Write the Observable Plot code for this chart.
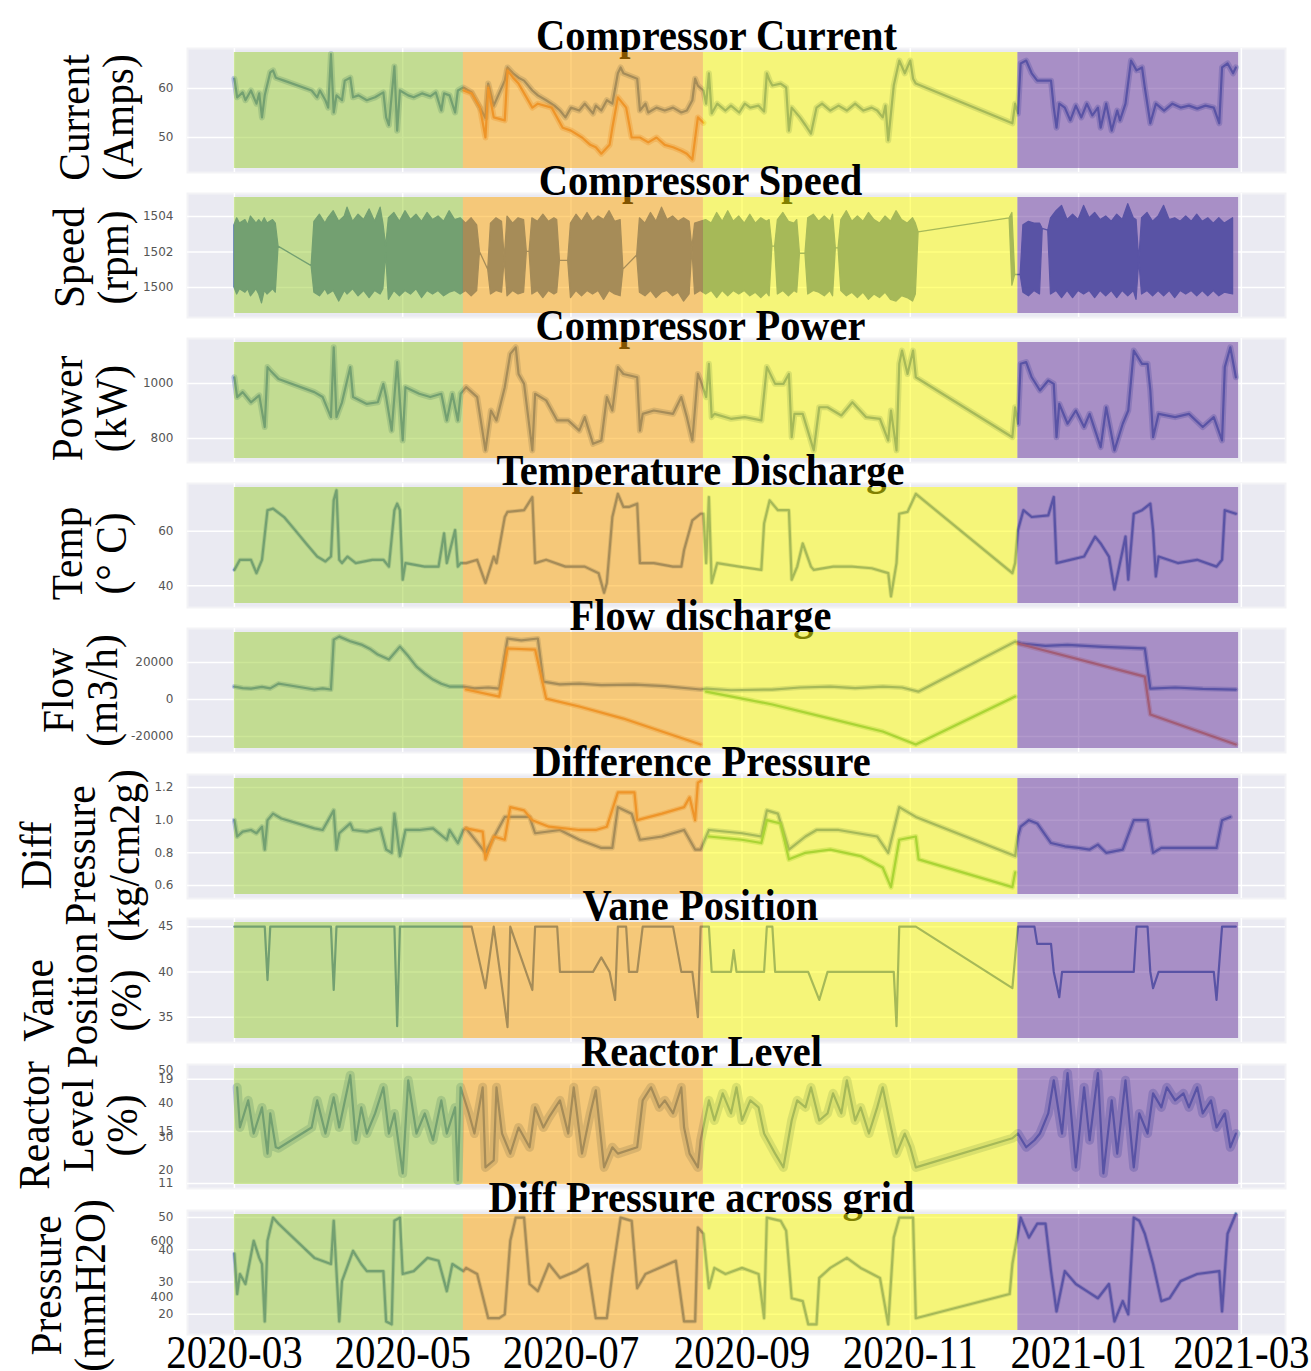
<!DOCTYPE html>
<html><head><meta charset="utf-8">
<script src="https://cdn.jsdelivr.net/npm/d3@7"></script>
<script src="https://cdn.jsdelivr.net/npm/@observablehq/plot@0.6"></script>
<style>
body{margin:0;background:#fff;}
#chart{position:relative;width:1311px;height:1371px;overflow:hidden;background:#fff;}
#chart svg{position:absolute;left:0;}
</style></head><body><div id="chart"></div>
<script>
// ---------- shared ----------
const xTickDates = ["2020-03-01","2020-05-01","2020-07-01","2020-09-01","2020-11-01","2021-01-01","2021-03-01"];
const bandStart = ["2020-03-01","2020-05-23","2020-08-18","2020-12-10"];
const bandEnd   = ["2020-05-23","2020-08-18","2020-12-10","2021-02-28"];
const bandColor = ["yellowgreen","orange","yellow","rebeccapurple"];

// ---------- Compressor Current (Amps) ----------
const currentMain = [["2020-03-01",62.0],["2020-03-02",58.2],["2020-03-04",59.2],["2020-03-05",57.6],["2020-03-07",59.6],["2020-03-09",56.9],["2020-03-10",59.0],["2020-03-11",54.1],["2020-03-12",58.6],["2020-03-14",63.3],["2020-03-15",63.7],["2020-03-16",62.2],["2020-03-19",61.6],["2020-03-29",59.6],["2020-03-31",58.2],["2020-04-01",59.6],["2020-04-03",57.6],["2020-04-04",56.1],["2020-04-05",67.0],["2020-04-06",55.1],["2020-04-07",58.6],["2020-04-09",57.6],["2020-04-10",61.6],["2020-04-12",62.2],["2020-04-13",58.2],["2020-04-15",58.6],["2020-04-18",57.6],["2020-04-21",58.2],["2020-04-24",59.2],["2020-04-25",54.1],["2020-04-26",52.5],["2020-04-28",64.5],["2020-04-29",51.4],["2020-04-30",59.6],["2020-05-03",58.6],["2020-05-05",58.2],["2020-05-08",59.0],["2020-05-11",58.4],["2020-05-13",59.2],["2020-05-15",55.5],["2020-05-16",59.0],["2020-05-18",58.6],["2020-05-20",55.1],["2020-05-21",59.6],
["2020-05-23",60.2],["2020-05-26",59.2],["2020-05-29",56.1],["2020-05-31",54.0],["2020-06-01",61.0],["2020-06-03",56.5],["2020-06-07",61.6],["2020-06-08",64.3],["2020-06-10",63.1],["2020-06-12",62.2],["2020-06-14",61.6],["2020-06-17",59.6],["2020-06-19",58.6],["2020-06-22",57.6],["2020-06-25",56.5],["2020-06-27",55.5],["2020-06-29",54.1],["2020-07-01",56.1],["2020-07-04",55.5],["2020-07-06",56.9],["2020-07-09",54.9],["2020-07-10",56.5],["2020-07-12",55.5],["2020-07-14",57.6],["2020-07-16",56.9],["2020-07-18",63.1],["2020-07-19",64.3],["2020-07-20",63.1],["2020-07-25",62.0],["2020-07-26",55.5],["2020-07-28",56.9],["2020-07-29",55.1],["2020-08-01",56.1],["2020-08-04",55.5],["2020-08-07",56.1],["2020-08-10",55.1],["2020-08-12",55.5],["2020-08-14",57.6],["2020-08-15",62.0],["2020-08-16",60.6],["2020-08-18",59.6],
["2020-08-19",56.9],["2020-08-20",63.1],["2020-08-21",54.9],["2020-08-23",56.9],["2020-08-26",55.5],["2020-08-28",56.5],["2020-08-31",55.1],["2020-09-02",56.9],["2020-09-04",56.1],["2020-09-07",56.5],["2020-09-09",55.3],["2020-09-10",63.1],["2020-09-11",61.6],["2020-09-12",60.6],["2020-09-15",61.0],["2020-09-17",60.2],["2020-09-18",51.4],["2020-09-19",56.1],["2020-09-22",54.1],["2020-09-24",52.5],["2020-09-26",50.8],["2020-09-28",56.1],["2020-09-30",56.9],["2020-10-03",55.5],["2020-10-06",56.5],["2020-10-09",55.5],["2020-10-12",56.9],["2020-10-15",55.5],["2020-10-18",56.1],["2020-10-20",55.5],["2020-10-22",54.1],["2020-10-23",56.5],["2020-10-24",49.4],["2020-10-26",60.6],["2020-10-28",65.7],["2020-10-30",63.1],["2020-11-01",65.7],["2020-11-02",62.0],["2020-11-03",61.0],["2020-12-08",52.9],["2020-12-09",56.9],["2020-12-10",54.9],
["2020-12-11",65.1],["2020-12-13",65.7],["2020-12-15",63.1],["2020-12-17",61.6],["2020-12-22",61.6],["2020-12-23",56.1],["2020-12-24",52.0],["2020-12-25",56.9],["2020-12-27",56.1],["2020-12-29",53.5],["2020-12-31",56.5],["2021-01-02",54.1],["2021-01-04",56.9],["2021-01-06",54.5],["2021-01-08",56.1],["2021-01-09",52.0],["2021-01-11",56.9],["2021-01-13",51.4],["2021-01-15",55.5],["2021-01-16",53.5],["2021-01-18",56.9],["2021-01-20",65.7],["2021-01-22",63.7],["2021-01-24",64.3],["2021-01-25",60.2],["2021-01-27",52.9],["2021-01-29",56.9],["2021-02-01",55.5],["2021-02-04",56.9],["2021-02-07",56.1],["2021-02-10",56.5],["2021-02-13",55.9],["2021-02-16",56.5],["2021-02-19",56.1],["2021-02-21",52.9],["2021-02-22",64.3],["2021-02-24",65.1],["2021-02-26",63.1],["2021-02-27",64.3]];
const currentOrange = [["2020-05-23",59.6],["2020-05-26",59.0],["2020-05-29",56.1],["2020-05-31",50.0],["2020-06-01",60.2],["2020-06-03",54.1],["2020-06-07",53.5],["2020-06-08",63.7],["2020-06-10",62.2],["2020-06-12",61.0],["2020-06-17",56.1],["2020-06-19",56.9],["2020-06-24",56.1],["2020-06-28",52.0],["2020-07-01",51.4],["2020-07-05",50.0],["2020-07-08",48.5],["2020-07-10",48.0],["2020-07-12",46.7],["2020-07-15",48.5],["2020-07-16",52.0],["2020-07-18",58.2],["2020-07-21",56.1],["2020-07-23",50.0],["2020-07-26",50.0],["2020-07-29",49.0],["2020-08-01",50.0],["2020-08-04",48.5],["2020-08-07",48.0],["2020-08-10",47.3],["2020-08-12",46.7],["2020-08-14",45.5],["2020-08-16",54.1],["2020-08-18",53.0]];

// ---------- Compressor Speed (rpm): [date, low envelope, high envelope] ----------
const speedBand = [["2020-03-01",1500.0,1503.5],["2020-03-02",1499.6,1503.9],["2020-03-03",1499.9,1503.6],["2020-03-05",1499.7,1503.8],["2020-03-06",1499.9,1503.5],["2020-03-07",1499.5,1504.0],["2020-03-09",1499.9,1503.6],["2020-03-10",1499.6,1503.8],["2020-03-11",1499.1,1503.6],["2020-03-12",1499.8,1503.9],["2020-03-13",1499.6,1503.6],["2020-03-15",1499.9,1503.8],["2020-03-16",1499.7,1503.6],["2020-03-17",1502.3,1502.3],
["2020-03-29",1501.2,1501.2],["2020-03-30",1499.7,1503.7],["2020-04-01",1499.5,1504.1],["2020-04-03",1499.9,1503.6],["2020-04-04",1499.6,1503.9],["2020-04-06",1499.8,1504.3],["2020-04-08",1499.2,1503.7],["2020-04-10",1499.8,1504.0],["2020-04-11",1499.6,1504.5],["2020-04-13",1499.9,1503.7],["2020-04-15",1499.5,1504.1],["2020-04-17",1499.8,1503.8],["2020-04-19",1499.4,1504.4],["2020-04-21",1499.8,1503.7],["2020-04-23",1499.6,1504.5],["2020-04-24",1499.9,1503.6],["2020-04-25",1501.9,1502.3],["2020-04-26",1499.3,1503.9],["2020-04-28",1499.8,1504.2],["2020-04-30",1499.5,1503.7],["2020-05-02",1499.8,1504.3],["2020-05-04",1499.6,1503.8],["2020-05-06",1499.9,1504.1],["2020-05-08",1499.4,1503.7],["2020-05-10",1499.8,1504.2],["2020-05-12",1499.6,1503.8],["2020-05-14",1499.8,1504.0],["2020-05-16",1499.5,1503.7],["2020-05-18",1499.7,1504.3],["2020-05-20",1499.8,1503.8],["2020-05-22",1499.6,1503.9],
["2020-05-24",1499.8,1503.6],["2020-05-26",1499.5,1503.9],["2020-05-28",1499.8,1503.5],["2020-05-29",1502.0,1502.0],["2020-06-01",1501.0,1501.0],["2020-06-02",1499.6,1503.6],["2020-06-04",1499.8,1503.9],["2020-06-06",1499.7,1503.7],["2020-06-07",1501.6,1501.6],["2020-06-08",1499.5,1504.0],["2020-06-10",1499.8,1503.6],["2020-06-12",1499.6,1503.9],["2020-06-14",1499.7,1503.8],["2020-06-15",1502.0,1502.0],["2020-06-16",1502.0,1502.0],["2020-06-17",1499.6,1503.9],["2020-06-19",1499.8,1503.7],["2020-06-21",1499.4,1504.1],["2020-06-23",1499.8,1503.7],["2020-06-25",1499.6,1503.9],["2020-06-26",1499.7,1503.8],["2020-06-27",1501.5,1501.5],["2020-06-30",1501.5,1501.5],["2020-07-01",1499.4,1503.6],["2020-07-03",1499.8,1504.1],["2020-07-05",1499.5,1503.7],["2020-07-07",1499.8,1504.2],["2020-07-09",1499.6,1503.7],["2020-07-11",1499.8,1504.0],["2020-07-13",1499.3,1503.8],["2020-07-15",1499.8,1504.3],["2020-07-17",1499.6,1503.7],["2020-07-19",1499.5,1503.8],["2020-07-20",1501.0,1501.0],["2020-07-25",1501.8,1501.8],["2020-07-26",1499.7,1503.9],["2020-07-28",1499.5,1503.6],["2020-07-30",1499.8,1504.2],["2020-08-01",1499.4,1503.7],["2020-08-03",1499.7,1504.5],["2020-08-05",1499.8,1503.8],["2020-08-07",1499.5,1504.0],["2020-08-09",1499.7,1503.7],["2020-08-11",1499.2,1503.9],["2020-08-13",1499.6,1503.7],["2020-08-14",1502.2,1502.2],["2020-08-15",1499.6,1503.6],["2020-08-17",1499.8,1503.7],
["2020-08-19",1499.6,1503.8],["2020-08-21",1499.8,1503.6],["2020-08-23",1499.4,1504.2],["2020-08-25",1499.8,1503.7],["2020-08-27",1499.5,1504.3],["2020-08-29",1499.8,1503.7],["2020-08-31",1499.6,1504.0],["2020-09-02",1499.8,1503.6],["2020-09-04",1499.5,1504.1],["2020-09-06",1499.7,1503.6],["2020-09-08",1499.4,1503.9],["2020-09-10",1499.7,1503.7],["2020-09-11",1499.5,1503.8],["2020-09-12",1502.3,1502.3],["2020-09-13",1502.3,1502.3],["2020-09-14",1499.6,1503.8],["2020-09-16",1499.8,1504.2],["2020-09-18",1499.5,1503.7],["2020-09-20",1499.8,1503.6],["2020-09-21",1499.7,1503.8],["2020-09-22",1501.9,1501.9],["2020-09-24",1501.9,1501.9],["2020-09-25",1499.6,1503.9],["2020-09-27",1499.8,1504.1],["2020-09-29",1499.7,1503.7],["2020-10-01",1499.5,1504.0],["2020-10-03",1499.8,1503.7],["2020-10-04",1499.5,1504.1],["2020-10-05",1502.2,1502.2],["2020-10-06",1502.2,1502.2],["2020-10-07",1499.8,1503.8],["2020-10-09",1499.5,1504.3],["2020-10-11",1499.7,1503.7],["2020-10-13",1499.4,1504.0],["2020-10-15",1499.7,1503.7],["2020-10-17",1499.3,1504.2],["2020-10-19",1499.6,1503.8],["2020-10-21",1499.4,1503.6],["2020-10-23",1499.7,1504.0],["2020-10-25",1499.3,1503.7],["2020-10-27",1499.2,1504.3],["2020-10-29",1499.5,1503.8],["2020-10-31",1499.4,1503.6],["2020-11-02",1499.2,1503.9],["2020-11-03",1499.6,1503.6],["2020-11-04",1503.1,1503.1],["2020-12-07",1503.9,1503.9],["2020-12-08",1500.1,1504.2],["2020-12-09",1500.7,1500.7],["2020-12-11",1500.7,1500.7],
["2020-12-12",1499.7,1503.5],["2020-12-14",1499.5,1503.7],["2020-12-16",1499.8,1503.6],["2020-12-18",1499.6,1503.6],["2020-12-19",1503.3,1503.3],["2020-12-21",1503.2,1503.2],["2020-12-22",1499.6,1503.9],["2020-12-24",1499.8,1504.3],["2020-12-26",1499.4,1504.6],["2020-12-28",1499.8,1503.8],["2020-12-30",1499.4,1504.1],["2021-01-01",1499.8,1503.8],["2021-01-03",1499.6,1504.6],["2021-01-05",1499.8,1503.9],["2021-01-07",1499.4,1504.2],["2021-01-09",1499.8,1503.8],["2021-01-11",1499.5,1504.0],["2021-01-13",1499.8,1503.7],["2021-01-15",1499.4,1504.1],["2021-01-17",1499.8,1503.8],["2021-01-19",1499.5,1504.7],["2021-01-21",1499.8,1503.9],["2021-01-22",1499.3,1503.8],["2021-01-23",1501.5,1501.5],["2021-01-24",1499.6,1503.9],["2021-01-26",1499.8,1504.2],["2021-01-28",1499.5,1503.7],["2021-01-30",1499.8,1504.0],["2021-02-01",1499.5,1504.6],["2021-02-03",1499.8,1503.8],["2021-02-05",1499.4,1503.9],["2021-02-07",1499.8,1503.7],["2021-02-09",1499.6,1504.0],["2021-02-11",1499.8,1503.7],["2021-02-13",1499.5,1504.1],["2021-02-15",1499.8,1503.7],["2021-02-17",1499.5,1503.9],["2021-02-19",1499.8,1503.6],["2021-02-21",1499.5,1503.9],["2021-02-23",1499.7,1503.6],["2021-02-26",1499.6,1503.9]];

// ---------- Compressor Power (kW) ----------
const powerMain = [["2020-03-01",1023],["2020-03-02",951],["2020-03-04",969],["2020-03-07",932],["2020-03-10",957],["2020-03-12",842],["2020-03-13",1060],["2020-03-14",1048],["2020-03-17",1017],["2020-03-30",969],["2020-04-02",951],["2020-04-05",878],["2020-04-06",1132],["2020-04-07",878],["2020-04-09",932],["2020-04-12",1060],["2020-04-13",951],["2020-04-18",926],["2020-04-22",932],["2020-04-24",999],["2020-04-25",951],["2020-04-27",829],["2020-04-29",1078],["2020-05-01",793],["2020-05-02",987],["2020-05-07",963],["2020-05-11",951],["2020-05-15",963],["2020-05-17",866],["2020-05-19",963],["2020-05-21",866],["2020-05-22",963],["2020-05-24",987],["2020-05-28",951],["2020-05-31",757],["2020-06-02",902],["2020-06-04",866],["2020-06-07",987],["2020-06-09",1108],["2020-06-11",1132],["2020-06-12",1035],["2020-06-14",999],["2020-06-17",757],["2020-06-18",963],["2020-06-22",939],["2020-06-26",866],["2020-06-30",866],["2020-07-04",829],["2020-07-06",878],["2020-07-09",781],["2020-07-12",793],["2020-07-14",951],["2020-07-16",902],["2020-07-18",1060],["2020-07-20",1035],["2020-07-25",1023],["2020-07-26",829],["2020-07-27",890],["2020-07-31",902],["2020-08-07",890],["2020-08-10",951],["2020-08-12",878],["2020-08-14",793],["2020-08-16",1035],["2020-08-17",1011],["2020-08-19",951],["2020-08-20",1072],["2020-08-21",878],["2020-08-22",890],["2020-08-28",872],["2020-09-02",878],["2020-09-08",866],["2020-09-10",1060],["2020-09-13",999],["2020-09-16",999],["2020-09-18",1035],["2020-09-19",805],["2020-09-20",890],["2020-09-23",890],["2020-09-27",757],["2020-09-29",914],["2020-10-02",914],["2020-10-07",884],["2020-10-11",932],["2020-10-16",878],["2020-10-21",872],["2020-10-24",793],["2020-10-25",902],["2020-10-27",757],["2020-10-28",1072],["2020-10-29",1120],["2020-10-31",1035],["2020-11-02",1120],["2020-11-03",1023],["2020-12-08",805],["2020-12-09",914],["2020-12-10",854],["2020-12-11",1072],["2020-12-13",1078],["2020-12-15",1023],["2020-12-18",975],["2020-12-21",1011],["2020-12-23",999],["2020-12-24",805],["2020-12-25",926],["2020-12-28",854],["2020-12-31",902],["2021-01-03",842],["2021-01-05",890],["2021-01-09",769],["2021-01-11",914],["2021-01-14",757],["2021-01-17",854],["2021-01-19",902],["2021-01-21",1120],["2021-01-24",1072],["2021-01-26",1072],["2021-01-27",975],["2021-01-28",805],["2021-01-30",890],["2021-02-05",878],["2021-02-10",890],["2021-02-15",842],["2021-02-19",878],["2021-02-22",793],["2021-02-23",1060],["2021-02-25",1132],["2021-02-27",1023]];

// ---------- Temperature Discharge (°C) ----------
const tempMain = [["2020-03-01",45.8],["2020-03-03",49.5],["2020-03-07",49.5],["2020-03-09",44.6],["2020-03-11",49.5],["2020-03-13",67.7],["2020-03-15",68.3],["2020-03-19",65.2],["2020-03-23",60.4],["2020-03-27",55.5],["2020-03-31",50.7],["2020-04-03",48.9],["2020-04-05",50.7],["2020-04-06",71.3],["2020-04-07",75.0],["2020-04-08",49.5],["2020-04-09",48.3],["2020-04-11",50.7],["2020-04-14",48.3],["2020-04-20",49.5],["2020-04-24",49.5],["2020-04-26",47.0],["2020-04-28",67.7],["2020-04-29",70.1],["2020-04-30",67.7],["2020-05-01",42.2],["2020-05-02",48.3],["2020-05-09",47.0],["2020-05-14",47.0],["2020-05-16",59.2],["2020-05-17",48.3],["2020-05-20",60.4],["2020-05-21",47.0],["2020-05-22",48.3],["2020-05-24",48.3],["2020-05-28",49.5],["2020-05-31",41.0],["2020-06-03",50.7],["2020-06-04",48.3],["2020-06-07",65.2],["2020-06-08",67.1],["2020-06-14",67.7],["2020-06-17",72.5],["2020-06-18",48.3],["2020-06-22",49.5],["2020-06-29",47.0],["2020-07-06",47.0],["2020-07-11",44.6],["2020-07-13",37.4],["2020-07-14",41.0],["2020-07-16",65.2],["2020-07-18",73.7],["2020-07-20",68.9],["2020-07-22",68.9],["2020-07-25",70.1],["2020-07-26",48.3],["2020-07-31",48.3],["2020-08-07",47.0],["2020-08-10",47.0],["2020-08-11",53.1],["2020-08-14",64.0],["2020-08-17",66.4],["2020-08-18",66.4],["2020-08-19",48.3],["2020-08-20",72.5],["2020-08-21",41.0],["2020-08-23",48.3],["2020-08-31",47.0],["2020-09-08",45.8],["2020-09-09",62.8],["2020-09-11",71.3],["2020-09-14",67.7],["2020-09-18",67.7],["2020-09-19",42.2],["2020-09-21",47.0],["2020-09-23",55.5],["2020-09-26",47.0],["2020-09-27",45.8],["2020-10-04",47.0],["2020-10-11",47.0],["2020-10-18",46.4],["2020-10-24",44.6],["2020-10-25",36.1],["2020-10-27",48.3],["2020-10-28",66.4],["2020-10-31",67.1],["2020-11-03",73.7],["2020-12-08",44.6],["2020-12-09",48.3],["2020-12-10",60.4],["2020-12-12",67.7],["2020-12-15",65.2],["2020-12-21",65.8],["2020-12-23",72.5],["2020-12-24",48.3],["2020-12-29",49.5],["2021-01-03",50.7],["2021-01-07",58.0],["2021-01-09",55.5],["2021-01-12",50.7],["2021-01-14",38.6],["2021-01-16",48.3],["2021-01-18",58.0],["2021-01-19",42.2],["2021-01-21",66.4],["2021-01-24",67.7],["2021-01-27",70.1],["2021-01-28",60.4],["2021-01-29",43.4],["2021-01-30",50.7],["2021-02-06",48.3],["2021-02-13",49.5],["2021-02-20",47.0],["2021-02-22",49.5],["2021-02-23",67.7],["2021-02-27",66.4]];

// ---------- Flow discharge (m3/h) ----------
const flowMain = [["2020-03-01",7000],["2020-03-04",6200],["2020-03-07",5900],["2020-03-11",6800],["2020-03-14",6000],["2020-03-17",8600],["2020-03-19",8100],["2020-03-30",5400],["2020-04-02",6000],["2020-04-05",5400],["2020-04-06",32400],["2020-04-08",34000],["2020-04-12",31500],["2020-04-16",29700],["2020-04-19",27500],["2020-04-22",24300],["2020-04-24",23000],["2020-04-26",21600],["2020-04-30",28600],["2020-05-03",23500],["2020-05-06",17800],["2020-05-09",14000],["2020-05-12",10800],["2020-05-15",8500],["2020-05-18",7000],["2020-05-23",7000],["2020-05-27",6000],["2020-06-01",6500],["2020-06-05",5900],["2020-06-08",33000],["2020-06-13",32000],["2020-06-19",33000],["2020-06-21",9700],["2020-06-27",8200],["2020-07-04",8600],["2020-07-12",7800],["2020-07-24",8100],["2020-08-04",7200],["2020-08-17",5400],["2020-08-19",5900],["2020-08-28",5000],["2020-09-12",5400],["2020-09-22",6500],["2020-10-03",7000],["2020-10-12",6200],["2020-10-22",7000],["2020-10-29",6500],["2020-11-04",4300],["2020-12-09",31300],["2020-12-11",30300],["2020-12-20",29000],["2020-12-28",29500],["2021-01-10",28500],["2021-01-25",27600],["2021-01-27",5900],["2021-02-05",6500],["2021-02-15",5800],["2021-02-27",5400]];
const flowOrange = [["2020-05-24",5400],["2020-06-05",1600],["2020-06-08",27600],["2020-06-18",27000],["2020-06-22",500],["2020-07-04",-3800],["2020-07-20",-10300],["2020-08-03",-17300],["2020-08-17",-24300]];
const flowGreen = [["2020-08-19",4300],["2020-09-12",-2700],["2020-10-03",-10300],["2020-10-22",-17300],["2020-11-03",-24300],["2020-12-09",1600]];
const flowLate = [["2020-12-10",30300],["2021-01-25",12400],["2021-01-27",-8100],["2021-02-27",-24300]];

// ---------- Difference Pressure (kg/cm2g) ----------
const diffMain = [["2020-03-01",1.0],["2020-03-02",0.90],["2020-03-04",0.93],["2020-03-07",0.94],["2020-03-09",0.92],["2020-03-11",0.96],["2020-03-12",0.82],["2020-03-13",1.0],["2020-03-15",1.04],["2020-03-18",1.01],["2020-03-30",0.95],["2020-04-02",0.94],["2020-04-06",1.06],["2020-04-07",0.82],["2020-04-08",0.92],["2020-04-12",0.98],["2020-04-13",0.94],["2020-04-18",0.93],["2020-04-23",0.95],["2020-04-25",0.82],["2020-04-27",0.80],["2020-04-28",1.04],["2020-04-30",0.78],["2020-05-02",0.94],["2020-05-07",0.94],["2020-05-12",0.95],["2020-05-17",0.88],["2020-05-18",0.94],["2020-05-21",0.86],["2020-05-23",0.94],["2020-05-24",0.95],["2020-05-31",0.80],["2020-06-07",1.02],["2020-06-16",1.02],["2020-06-18",0.92],["2020-06-27",0.94],["2020-07-04",0.88],["2020-07-12",0.83],["2020-07-16",0.83],["2020-07-18",1.08],["2020-07-23",1.04],["2020-07-26",0.88],["2020-08-03",0.90],["2020-08-11",0.94],["2020-08-15",0.82],["2020-08-17",0.82],["2020-08-20",0.94],["2020-09-01",0.92],["2020-09-08",0.90],["2020-09-10",1.06],["2020-09-14",1.04],["2020-09-18",0.82],["2020-09-24",0.90],["2020-09-28",0.94],["2020-10-06",0.94],["2020-10-20",0.90],["2020-10-24",0.80],["2020-10-28",1.08],["2020-11-03",1.02],["2020-12-09",0.78],["2020-12-10",0.90],["2020-12-11",0.96],["2020-12-14",1.0],["2020-12-17",0.98],["2020-12-22",0.86],["2020-12-27",0.84],["2021-01-01",0.83],["2021-01-05",0.82],["2021-01-08",0.85],["2021-01-11",0.80],["2021-01-17",0.82],["2021-01-21",1.0],["2021-01-26",1.0],["2021-01-28",0.80],["2021-01-31",0.83],["2021-02-10",0.83],["2021-02-20",0.83],["2021-02-22",1.0],["2021-02-25",1.02]];
const diffOrange = [["2020-05-24",0.95],["2020-05-30",0.93],["2020-05-31",0.76],["2020-06-03",0.90],["2020-06-07",0.88],["2020-06-09",1.08],["2020-06-14",1.06],["2020-06-17",1.0],["2020-06-23",0.96],["2020-07-04",0.94],["2020-07-10",0.94],["2020-07-14",0.96],["2020-07-18",1.17],["2020-07-24",1.17],["2020-07-25",1.0],["2020-08-03",1.04],["2020-08-11",1.08],["2020-08-13",1.14],["2020-08-15",1.0],["2020-08-16",1.23],["2020-08-17",1.24]];
const diffGreen = [["2020-08-20",0.90],["2020-09-01",0.88],["2020-09-08",0.86],["2020-09-10",1.0],["2020-09-15",0.98],["2020-09-18",0.76],["2020-09-24",0.80],["2020-10-03",0.82],["2020-10-14",0.78],["2020-10-22",0.71],["2020-10-25",0.59],["2020-10-28",0.88],["2020-11-03",0.90],["2020-11-04",0.76],["2020-12-08",0.59],["2020-12-09",0.68]];

// ---------- Vane Position (%) ----------
const vaneMain = [["2020-03-01",45],["2020-03-12",45],["2020-03-13",39.1],["2020-03-14",45],["2020-04-05",45],["2020-04-06",38],["2020-04-07",45],["2020-04-28",45],["2020-04-29",34],["2020-04-30",45],["2020-05-26",45],["2020-05-31",38.2],["2020-06-03",45],["2020-06-08",33.9],["2020-06-09",45],["2020-06-17",38],["2020-06-18",45],["2020-06-26",45],["2020-06-27",40],["2020-07-09",40],["2020-07-12",41.6],["2020-07-15",40],["2020-07-17",36.9],["2020-07-18",45],["2020-07-21",45],["2020-07-22",40],["2020-07-25",40],["2020-07-27",45],["2020-08-07",45],["2020-08-10",40],["2020-08-14",40],["2020-08-16",35],["2020-08-17",45],["2020-08-20",45],["2020-08-21",40],["2020-08-28",40],["2020-08-29",42.4],["2020-08-30",40],["2020-09-09",40],["2020-09-10",45],["2020-09-12",45],["2020-09-13",40],["2020-09-25",40],["2020-09-29",36.9],["2020-10-02",40],["2020-10-26",40],["2020-10-27",34],["2020-10-28",45],["2020-11-03",45],["2020-12-08",38.2],["2020-12-10",45],["2020-12-16",45],["2020-12-17",43.1],["2020-12-22",43.1],["2020-12-23",40],["2020-12-25",37.2],["2020-12-26",40],["2021-01-21",40],["2021-01-22",45],["2021-01-26",45],["2021-01-27",40],["2021-01-28",38.2],["2021-01-30",40],["2021-02-19",40],["2021-02-20",36.9],["2021-02-22",45],["2021-02-27",45]];

// ---------- Reactor Level (%) ----------
const reactorMain = [["2020-03-02",44.8],["2020-03-03",32.8],["2020-03-06",40.9],["2020-03-08",31],["2020-03-11",38.8],["2020-03-13",25],["2020-03-14",37],["2020-03-16",26.9],["2020-03-17",26.6],["2020-03-29",32.8],["2020-03-31",40.9],["2020-04-03",31],["2020-04-06",41.8],["2020-04-08",32.8],["2020-04-12",48.4],["2020-04-14",29],["2020-04-16",38.8],["2020-04-18",31],["2020-04-21",37],["2020-04-24",44.8],["2020-04-26",31],["2020-04-28",37],["2020-05-01",19.1],["2020-05-03",46.9],["2020-05-06",31],["2020-05-09",37],["2020-05-12",29],["2020-05-15",40.9],["2020-05-17",31],["2020-05-20",38.8],["2020-05-21",17],["2020-05-22",44.8],["2020-05-25",37],["2020-05-27",31],["2020-05-30",44.8],["2020-05-31",20.9],["2020-06-03",23],["2020-06-04",44.8],["2020-06-06",31],["2020-06-09",25],["2020-06-12",32.8],["2020-06-16",26.9],["2020-06-18",38.8],["2020-06-21",32.8],["2020-06-23",35.8],["2020-06-27",40.9],["2020-06-30",31],["2020-07-02",44.8],["2020-07-05",25],["2020-07-08",37],["2020-07-10",43.9],["2020-07-13",20.9],["2020-07-16",26.9],["2020-07-18",25],["2020-07-25",26.9],["2020-07-27",40.9],["2020-07-30",44.8],["2020-08-02",38.8],["2020-08-04",40.9],["2020-08-07",37],["2020-08-10",44.8],["2020-08-11",32.8],["2020-08-13",25],["2020-08-16",20.9],["2020-08-17",29],["2020-08-20",40.9],["2020-08-22",34.9],["2020-08-25",43],["2020-08-28",37],["2020-08-30",44.8],["2020-09-01",34.9],["2020-09-04",40.9],["2020-09-07",38.8],["2020-09-09",31],["2020-09-13",25],["2020-09-16",20.9],["2020-09-19",34.9],["2020-09-21",40.9],["2020-09-24",38.8],["2020-09-26",44.8],["2020-09-29",34.9],["2020-10-02",37],["2020-10-04",43],["2020-10-07",37],["2020-10-09",46.9],["2020-10-12",34.9],["2020-10-14",38.8],["2020-10-17",31],["2020-10-20",38.8],["2020-10-22",44.8],["2020-10-25",32.8],["2020-10-27",25],["2020-10-30",31],["2020-11-01",26.9],["2020-11-03",20.9],["2020-12-08",29.6],["2020-12-10",31],["2020-12-13",26.9],["2020-12-16",29],["2020-12-18",31],["2020-12-21",37],["2020-12-23",46.9],["2020-12-26",31],["2020-12-28",49],["2020-12-31",20.9],["2021-01-03",44.8],["2021-01-05",29],["2021-01-08",49],["2021-01-10",19.1],["2021-01-13",40.9],["2021-01-15",25],["2021-01-18",46.9],["2021-01-21",20.9],["2021-01-23",37],["2021-01-26",31],["2021-01-28",43],["2021-01-31",38.8],["2021-02-02",44.8],["2021-02-05",40.9],["2021-02-08",43],["2021-02-10",38.8],["2021-02-13",44.8],["2021-02-15",37],["2021-02-18",40.9],["2021-02-20",32.8],["2021-02-23",37],["2021-02-25",26.9],["2021-02-27",31]];
const reactorGhostLabels = ["19","15","11"];
const reactorGhostAt = [47.2, 31.6, 16.1];

// ---------- Diff Pressure across grid (mmH2O) ----------
const gridMain = [["2020-03-01",38.8],["2020-03-02",26.3],["2020-03-03",32.5],["2020-03-05",29.4],["2020-03-08",42.8],["2020-03-10",37.5],["2020-03-11",35.6],["2020-03-12",17.8],["2020-03-13",42.8],["2020-03-15",50],["2020-03-17",48.1],["2020-03-30",37.5],["2020-04-05",35.6],["2020-04-06",49],["2020-04-08",17.8],["2020-04-09",30.3],["2020-04-13",39.7],["2020-04-16",35.6],["2020-04-18",33.4],["2020-04-24",33.4],["2020-04-25",17.8],["2020-04-27",16.9],["2020-04-28",49],["2020-04-30",50],["2020-05-01",32.5],["2020-05-05",33.4],["2020-05-10",37.5],["2020-05-14",36.6],["2020-05-17",27.2],["2020-05-19",35.6],["2020-05-23",33.4],["2020-05-24",34.4],["2020-05-28",32.5],["2020-06-01",18.8],["2020-06-05",18.8],["2020-06-07",20],["2020-06-09",42.8],["2020-06-11",50],["2020-06-14",50],["2020-06-16",29.4],["2020-06-19",27.2],["2020-06-23",35.6],["2020-06-27",31.3],["2020-07-03",33.4],["2020-07-07",35.6],["2020-07-10",18.8],["2020-07-14",18.8],["2020-07-16",32.5],["2020-07-19",50],["2020-07-23",49],["2020-07-25",28.1],["2020-07-28",32.5],["2020-08-02",34.4],["2020-08-08",36.6],["2020-08-11",17.8],["2020-08-15",17.8],["2020-08-16",46.9],["2020-08-18",45],["2020-08-20",28.1],["2020-08-22",34.4],["2020-08-26",32.5],["2020-09-01",34.4],["2020-09-07",32.5],["2020-09-09",18.8],["2020-09-10",50],["2020-09-15",49],["2020-09-17",45.9],["2020-09-19",25],["2020-09-23",24.1],["2020-09-25",16.9],["2020-09-28",16.9],["2020-09-29",31.3],["2020-10-03",34.4],["2020-10-09",37.5],["2020-10-14",34.4],["2020-10-21",31.3],["2020-10-24",16.9],["2020-10-26",43.8],["2020-10-28",50],["2020-11-02",50],["2020-11-03",18.8],["2020-12-07",26.3],["2020-12-08",35.6],["2020-12-11",50],["2020-12-14",43.8],["2020-12-17",48.1],["2020-12-20",48.1],["2020-12-22",33.4],["2020-12-24",20.9],["2020-12-27",33.4],["2020-12-31",29.4],["2021-01-04",27.2],["2021-01-08",25],["2021-01-12",29.4],["2021-01-14",17.8],["2021-01-17",24.1],["2021-01-19",20],["2021-01-21",50],["2021-01-23",49],["2021-01-25",45],["2021-01-28",35.6],["2021-01-31",24.1],["2021-02-03",25],["2021-02-07",30.3],["2021-02-13",32.5],["2021-02-21",33.4],["2021-02-22",20.9],["2021-02-24",45],["2021-02-27",51.2]];
const gridGhostLabels = ["600","400"];
const gridGhostAt = [42.8, 25.3];

// ---------- rendering ----------
const BLUE = "#4C72B0", ORANGE = "#DD8452", GREEN = "#55A868";
const toDate = s => new Date(s);
const xTicks = xTickDates.map(toDate);
const bands = bandStart.map((s, i) => ({x1: toDate(s), x2: toDate(bandEnd[i]), fill: bandColor[i]}));
const f0 = d => String(d), f1 = d => d.toFixed(1);

const panels = [
  {title:"Compressor Current", label:"Current\n(Amps)", top:48, domain:[42.86,68.16], ticks:[50,60], fmt:f0, series:[[currentMain,BLUE],[currentOrange,ORANGE]], fuzz:6, lx:96, ly:117, tx:716},
  {title:"Compressor Speed", label:"Speed\n(rpm)", top:193, domain:[1498.3,1505.3], ticks:[1500,1502,1504], fmt:f0, band:speedBand, series:[], fuzz:0, lx:91, ly:257, tx:700},
  {title:"Compressor Power", label:"Power\n(kW)", top:338, domain:[713,1164], ticks:[800,1000], fmt:f0, series:[[powerMain,BLUE]], fuzz:6, lx:89, ly:408, tx:700},
  {title:"Temperature Discharge", label:"Temp\n(° C)", top:483, domain:[32,77.5], ticks:[40,60], fmt:f0, series:[[tempMain,BLUE]], fuzz:4, lx:89, ly:553, tx:700},
  {title:"Flow discharge", label:"Flow\n(m3/h)", top:628, domain:[-28650,38400], ticks:[-20000,0,20000], fmt:f0, series:[[flowMain,BLUE],[flowOrange,ORANGE],[flowGreen,GREEN],[flowLate,ORANGE]], fuzz:5, lx:80, ly:690, tx:700},
  {title:"Difference Pressure", label:"Diff\nPressure\n(kg/cm2g)", top:774, domain:[0.52,1.28], ticks:[0.6,0.8,1.0,1.2], fmt:f1, series:[[diffMain,BLUE],[diffOrange,ORANGE],[diffGreen,GREEN]], fuzz:5, lx:80, ly:855, tx:701},
  {title:"Vane Position", label:"Vane\nPosition\n(%)", top:918, domain:[32.2,45.9], ticks:[35,40,45], fmt:f0, series:[[vaneMain,BLUE]], fuzz:0, lx:82, ly:1000, tx:700},
  {title:"Reactor Level", label:"Reactor\nLevel\n(%)", top:1064, domain:[14.6,51.6], ticks:[20,30,40,50], grid:reactorGhostAt, ghost:[reactorGhostLabels,reactorGhostAt], fmt:f0, series:[[reactorMain,BLUE]], fuzz:9, lx:78, ly:1125, tx:701},
  {title:"Diff Pressure across grid", label:"Pressure\n(mmH2O)", top:1210, domain:[13.75,52.2], ticks:[20,30,40,50], ghost:[gridGhostLabels,gridGhostAt], fmt:f0, series:[[gridMain,BLUE]], fuzz:4, lx:68, ly:1285, tx:701}
];

const MT = 45, H = 124, ML = 187, MR = 26, W = 1311;
const frameCx = ML + (W - ML - MR) / 2;
const root = document.getElementById("chart");

function squeeze(svg, size, sx) {
  svg.querySelectorAll(`g[font-size="${size}"] text`).forEach(t => {
    const tr = t.getAttribute("transform");
    if (tr) t.setAttribute("transform", tr + ` scale(${sx},1)`);
    else {
      const x = parseFloat(t.getAttribute("x")) || 0, y = parseFloat(t.getAttribute("y")) || 0;
      t.removeAttribute("x"); t.removeAttribute("y");
      t.setAttribute("transform", `translate(${x},${y}) scale(${sx},1)`);
    }
  });
}

panels.forEach((p, i) => {
  const last = i === panels.length - 1;
  const mb = last ? 45 : 0;
  const marks = [
    Plot.frame({fill: "#EAEAF2", stroke: "#F3F3F6", strokeWidth: 2}),
    Plot.ruleY(p.grid || p.ticks, {stroke: "white", strokeWidth: 1.5}),
    Plot.ruleX(xTicks, {stroke: "white", strokeWidth: 1.5})
  ];
  if (p.band) marks.push(Plot.areaY(p.band, {x: d => toDate(d[0]), y1: d => d[1], y2: d => d[2], fill: BLUE, stroke: BLUE, strokeWidth: 1.3}));
  for (const [data, color] of p.series) {
    if (p.fuzz) marks.push(Plot.line(data, {x: d => toDate(d[0]), y: d => d[1], stroke: color, strokeWidth: p.fuzz, strokeOpacity: 0.35, strokeLinejoin: "round"}));
    marks.push(Plot.line(data, {x: d => toDate(d[0]), y: d => d[1], stroke: color, strokeWidth: 2.2, strokeLinejoin: "round"}));
  }
  marks.push(Plot.text([p.title], {frameAnchor: "top", textAnchor: "middle", lineAnchor: "bottom", dx: p.tx - frameCx, dy: 1, fontSize: 44, fontWeight: "bold", fontFamily: "Liberation Serif", fill: "black"}));
  marks.push(Plot.rect(bands, {x1: "x1", x2: "x2", fill: "fill", fillOpacity: 0.5, insetTop: 4, insetBottom: 4}));
  marks.push(Plot.text(p.ticks, {y: d => d, text: p.fmt, frameAnchor: "left", dx: -14, textAnchor: "end", fontSize: 12, fontFamily: "DejaVu Sans", fill: "#555"}));
  if (p.ghost) {
    const [labs, at] = p.ghost;
    marks.push(Plot.text(labs, {y: (d, k) => at[k], text: d => d, frameAnchor: "left", dx: -14, textAnchor: "end", fontSize: 12, fontFamily: "DejaVu Sans", fill: "#555"}));
  }
  marks.push(Plot.text([p.label], {frameAnchor: "left", textAnchor: "middle", lineAnchor: "middle", dx: p.lx - ML, dy: p.ly - (p.top + H / 2), rotate: -90, fontSize: 45, lineHeight: 0.98, fontFamily: "Liberation Serif", fill: "black"}));
  if (last) marks.push(Plot.text(xTicks, {x: d => d, text: d => d3.utcFormat("%Y-%m")(d), frameAnchor: "bottom", textAnchor: "middle", lineAnchor: "top", dy: 1, fontSize: 46, fontFamily: "Liberation Serif", fill: "black"}));
  const svg = Plot.plot({
    width: W, height: MT + H + mb, marginTop: MT, marginBottom: mb, marginLeft: ML, marginRight: MR,
    x: {type: "utc", domain: [toDate("2020-02-13"), toDate("2021-03-17")], axis: null},
    y: {domain: p.domain, axis: null},
    color: {type: "identity"},
    style: {background: "transparent", overflow: "visible"},
    marks
  });
  squeeze(svg, 44, 0.92);
  squeeze(svg, 45, 0.92);
  squeeze(svg, 46, 0.89);
  svg.style.top = (p.top - MT) + "px";
  root.appendChild(svg);
});
</script>
</body></html>
